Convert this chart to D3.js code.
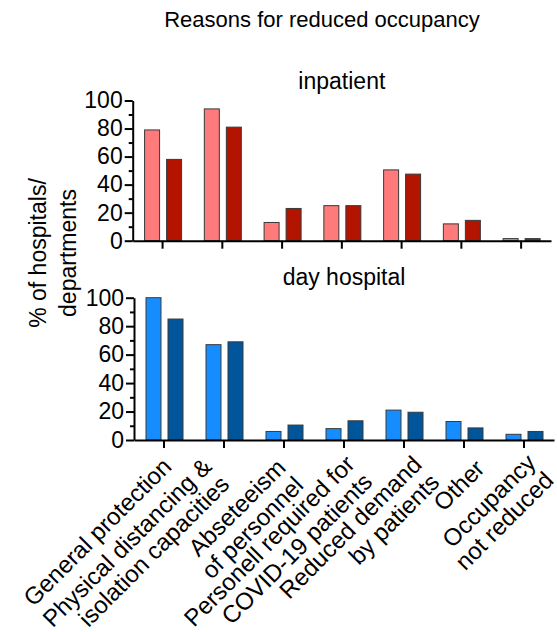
<!DOCTYPE html>
<html>
<head>
<meta charset="utf-8">
<script src="https://cdn.jsdelivr.net/npm/d3@7"></script>
<style>
  html, body { margin: 0; padding: 0; background: #fff; }
  svg { display: block; font-family: Arial, "Liberation Sans", Helvetica, sans-serif; }
</style>
</head>
<body>
<svg id="chart" width="557" height="632"></svg>
<script>
// Reasons for reduced occupancy, % of hospitals/departments
const categories = [
  "General protection",
  "Physical distancing & isolation capacities",
  "Abseteeism of personnel",
  "Personell required for COVID-19 patients",
  "Reduced demand by patients",
  "Other",
  "Occupancy not reduced"
];
const categoryLines = [
  ["General protection"],
  ["Physical distancing &", "isolation capacities"],
  ["Abseteeism", "of personnel"],
  ["Personell required for", "COVID-19 patients"],
  ["Reduced demand", "by patients"],
  ["Other"],
  ["Occupancy", "not reduced"]
];
const inpatientA = [79, 94, 13, 25, 50.5, 12, 1.5];
const inpatientB = [58, 81, 23, 25, 47.5, 14.5, 1.5];
const dayHospitalA = [100, 67, 6, 8, 21, 13, 4];
const dayHospitalB = [85, 69, 10.5, 13.5, 19.5, 8.5, 6];
const yTicks = [0, 20, 40, 60, 80, 100];
const yMinorTicks = [10, 30, 50, 70, 90];

const svg = d3.select("#chart");
const INK = "#000";

svg.append("text")
  .attr("x", 322).attr("y", 27)
  .attr("text-anchor", "middle")
  .attr("font-size", 22)
  .attr("fill", INK)
  .text("Reasons for reduced occupancy");

// y-axis title, two lines
const yTitle = svg.append("text")
  .attr("transform", "translate(0,253) rotate(-90)")
  .attr("text-anchor", "middle")
  .attr("font-size", 23)
  .attr("fill", INK);
yTitle.append("tspan").attr("x", 0).attr("y", 46).text("% of hospitals/");
yTitle.append("tspan").attr("x", 0).attr("y", 76).text("departments");

function panel(cfg) {
  const x = d3.scaleBand().domain(categories).range([cfg.x0, cfg.x1]);
  const y = d3.scaleLinear().domain([0, 100]).range([cfg.yBase, cfg.yTop]);
  const g = svg.append("g");

  const barW = 15;
  const rows = categories.map((c, i) => ({ c, a: cfg.a[i], b: cfg.b[i] }));

  g.selectAll("rect.a").data(rows).enter().append("rect")
    .attr("class", "a")
    .attr("x", d => x(d.c) + x.bandwidth() / 2 - 18)
    .attr("width", barW)
    .attr("y", d => y(d.a))
    .attr("height", d => y(0) - y(d.a))
    .attr("fill", cfg.colA)
    .attr("stroke", "#3a3a3a").attr("stroke-width", 1);

  g.selectAll("rect.b").data(rows).enter().append("rect")
    .attr("class", "b")
    .attr("x", d => x(d.c) + x.bandwidth() / 2 + 4)
    .attr("width", barW)
    .attr("y", d => y(d.b))
    .attr("height", d => y(0) - y(d.b))
    .attr("fill", cfg.colB)
    .attr("stroke", "#3a3a3a").attr("stroke-width", 1);

  // minor y ticks
  const yMinor = g.append("g").attr("transform", `translate(${cfg.x0},0)`)
    .call(d3.axisLeft(y).tickValues(yMinorTicks).tickSize(4).tickFormat("").tickSizeOuter(0));
  yMinor.select("path.domain").remove();
  yMinor.selectAll(".tick line").attr("stroke", INK).attr("stroke-width", 2);

  // major y ticks with labels
  const yAxis = g.append("g").attr("transform", `translate(${cfg.x0},0)`)
    .call(d3.axisLeft(y).tickValues(yTicks).tickSize(8).tickPadding(2).tickSizeOuter(0));
  yAxis.selectAll("path.domain").attr("stroke", INK).attr("stroke-width", 2);
  yAxis.selectAll(".tick line").attr("stroke", INK).attr("stroke-width", 2);
  yAxis.selectAll(".tick text").attr("font-size", 23).attr("fill", INK)
    .attr("font-family", "Arial, 'Liberation Sans', sans-serif");

  // x axis
  const xAxis = g.append("g").attr("transform", `translate(0,${cfg.yBase})`)
    .call(d3.axisBottom(x).tickSize(8).tickFormat("").tickSizeOuter(0));
  xAxis.selectAll("path.domain").attr("stroke", INK).attr("stroke-width", 2);
  xAxis.selectAll(".tick line").attr("stroke", INK).attr("stroke-width", 2);

  g.append("text")
    .attr("x", (cfg.x0 + cfg.x1) / 2).attr("y", cfg.titleY)
    .attr("text-anchor", "middle")
    .attr("font-size", 23)
    .attr("fill", INK)
    .text(cfg.title);

  return x;
}

panel({
  title: "inpatient", titleY: 89,
  x0: 132.7, x1: 551, yBase: 240.7, yTop: 100.5,
  a: inpatientA, b: inpatientB, colA: "#ff7b7b", colB: "#b31400"
});
const xLow = panel({
  title: "day hospital", titleY: 285,
  x0: 134, x1: 554, yBase: 440, yTop: 297.7,
  a: dayHospitalA, b: dayHospitalB, colA: "#168dff", colB: "#00559b"
});

// rotated category labels below the lower panel; each block is anchored
// at the end of its lines, nudged from its tick
const labelNudgeX = [9, -2, 12, 21, 28, 22, 22];
const labelBaseY = [468, 477, 478, 474.5, 475, 470, 473];
const lh = 25;
const labels = svg.append("g").selectAll("text")
  .data(categories.map((c, i) => ({ c, i, lines: categoryLines[i] })))
  .enter().append("text")
  .attr("transform", d =>
    `translate(${xLow(d.c) + xLow.bandwidth() / 2 + labelNudgeX[d.i]},${labelBaseY[d.i]}) rotate(-45)`)
  .attr("text-anchor", "end")
  .attr("font-size", 24)
  .attr("fill", INK);
labels.each(function(d) {
  const n = d.lines.length;
  d3.select(this).selectAll("tspan").data(d.lines).enter().append("tspan")
    .attr("x", 0)
    .attr("y", (t, k) => (k - (n - 1) / 2) * lh)
    .text(t => t);
});
</script>
</body>
</html>
